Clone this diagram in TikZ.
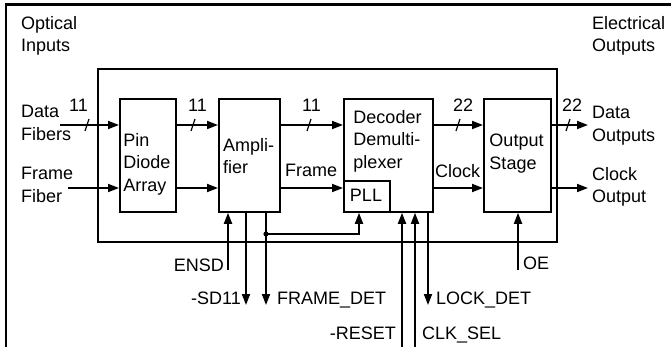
\documentclass[tikz,border=0pt]{standalone}
\usepackage{fontspec}
\setmainfont{Liberation Sans}
\usetikzlibrary{arrows.meta,calc}
\begin{document}
\begin{tikzpicture}[x=1pt,y=-1pt,
  blk/.style={draw, line width=1.8pt, inner sep=0pt, anchor=north west},
  txt/.style={inner sep=0pt, font=\fontsize{18}{22.5}\selectfont, align=left},
  arr/.style={line width=1.8pt, -{Triangle[length=11pt,width=8pt]}},
  bustick/.style={line width=1.2pt},
]
\useasboundingbox (0,0) rectangle (671,347);
% frame lines of the page
\coordinate (tl) at (5,5);
\coordinate (tr) at (671,5);
\coordinate (bl) at (6,347);
\draw[line width=3pt] (tl) -- (tr);
\draw[line width=2pt] (tl -| bl) -- (bl);

% blocks
\node[blk, minimum width=459, minimum height=173] (board) at (97,68) {};
\node[blk, minimum width=56, minimum height=113] (pin) at (119,98) {};
\node[blk, minimum width=61, minimum height=113] (amp) at (218,98) {};
\node[blk, minimum width=89, minimum height=113] (dec) at (343,98) {};
\node[blk, minimum width=46, minimum height=31] (pll) at (343,180) {};
\node[blk, minimum width=67, minimum height=113] (outs) at (483,98) {};

% block texts
\node[txt, anchor=north] (pintxt) at (147,133) {Pin\\Diode\\Array};
\node[txt, anchor=north] (amptxt) at (248.5,138) {Ampli-\\fier};
\node[txt, anchor=north] (dectxt) at (387.5,110) {Decoder\\Demulti-\\plexer};
\node[txt, anchor=north] (plltxt) at (366,189) {PLL};
\node[txt, anchor=north] (outtxt) at (516.5,134) {Output\\Stage};

% outside labels
\node[txt, anchor=north west] (optical) at (21,16) {Optical\\Inputs};
\node[txt, anchor=north west] (electrical) at (592,16) {Electrical\\Outputs};
\node[txt, anchor=north west] (datafib) at (21,105) {Data\\Fibers};
\node[txt, anchor=north west] (framefib) at (21,167) {Frame\\Fiber};
\node[txt, anchor=north west] (dataout) at (592,106) {Data\\Outputs};
\node[txt, anchor=north west] (clockout) at (592,167) {Clock\\Output};
\node[txt, anchor=north west] (framelbl) at (285,164) {Frame};
\node[txt, anchor=north west] (clocklbl) at (435,164) {Clock};
\node[txt, anchor=north west] (n1) at (69,99) {11};
\node[txt, anchor=north west] (n2) at (188,99) {11};
\node[txt, anchor=north west] (n3) at (302,99) {11};
\node[txt, anchor=north west] (n4) at (453,99) {22};
\node[txt, anchor=north west] (n5) at (562,99) {22};
\node[txt, anchor=north east] (ensdlbl) at (224,259) {ENSD};
\node[txt, anchor=north east] (sdlbl) at (241,292) {-SD11};
\node[txt, anchor=north west] (fdlbl) at (277,292) {FRAME\_DET};
\node[txt, anchor=north west] (ldlbl) at (436,292) {LOCK\_DET};
\node[txt, anchor=north east] (rstlbl) at (396,327) {-RESET};
\node[txt, anchor=north west] (ckslbl) at (422,327) {CLK\_SEL};
\node[txt, anchor=north west] (oelbl) at (523,257) {OE};

% horizontal signal paths
\coordinate (din) at (60,125);
\coordinate (fin) at (68,188);
\coordinate (dout) at (588,125);
\coordinate (cout) at (588,188);
\draw[arr] (din) -- (din -| pin.west);
\draw[arr] (fin) -- (fin -| pin.west);
\draw[arr] (din -| pin.east) -- (din -| amp.west);
\draw[arr] (fin -| pin.east) -- (fin -| amp.west);
\draw[arr] (din -| amp.east) -- (din -| dec.west);
\draw[arr] (fin -| amp.east) -- (fin -| pll.west);
\draw[arr] (din -| dec.east) -- (din -| outs.west);
\draw[arr] (fin -| dec.east) -- (fin -| outs.west);
\draw[arr] (din -| outs.east) -- (dout);
\draw[arr] (fin -| outs.east) -- (cout);

% bus ticks
\foreach \tx in {87,193,309,458,568} {
  \coordinate (tk) at (\tx,125);
  \draw[bustick] ($(tk)+(-2,6)$) -- ($(tk)+(2,-6)$);
}

% vertical control lines
\coordinate (ensd) at (228,270);
\coordinate (sd) at (246,305);
\coordinate (fd) at (266,305);
\coordinate (j) at (266,234);
\coordinate (pj) at (359,234);
\coordinate (rst) at (402,347);
\coordinate (cks) at (415,347);
\coordinate (ld) at (428,305);
\coordinate (oe) at (518,270);
\draw[arr] (ensd) -- (ensd |- amp.south);
\draw[arr] (sd |- amp.south) -- (sd);
\draw[arr] (fd |- amp.south) -- (fd);
\fill (j) circle (2.6pt);
\draw[arr] (j) -- (pj) -- (pj |- pll.south);
\draw[arr] (rst) -- (rst |- dec.south);
\draw[arr] (cks) -- (cks |- dec.south);
\draw[arr] (ld |- dec.south) -- (ld);
\draw[arr] (oe) -- (oe |- outs.south);
\end{tikzpicture}
\end{document}
